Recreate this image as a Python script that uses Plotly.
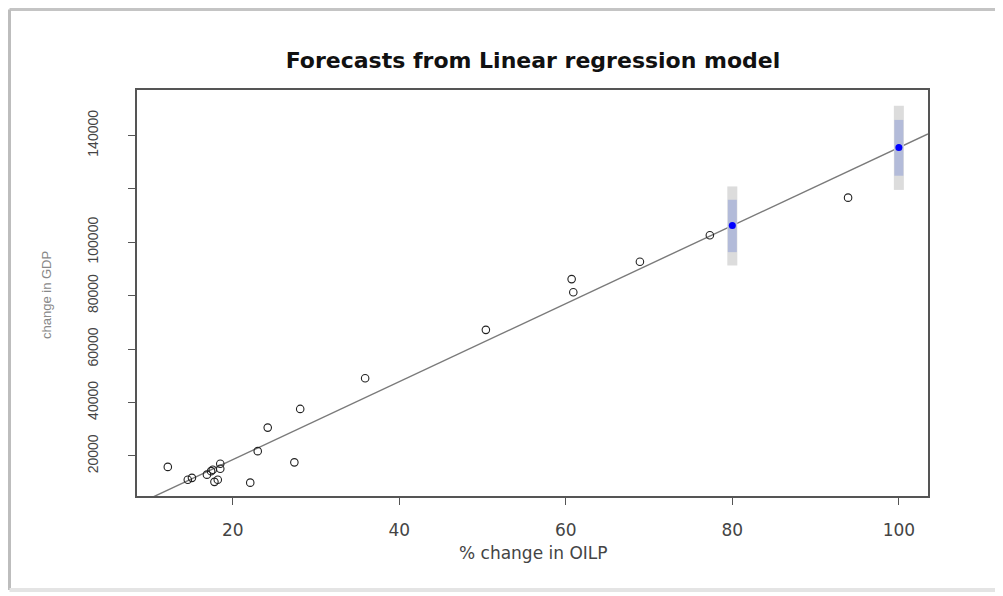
import plotly.graph_objects as go

# ---------------- data ----------------
obs_x = [12.2, 14.6, 15.1, 16.9, 17.4, 17.6, 18.5, 18.5, 17.8, 18.2, 22.1,
         23.0, 24.2, 27.4, 28.1, 35.9, 50.4, 60.7, 60.9, 68.9, 77.3, 93.9]
obs_y = [15900, 11100, 11800, 13000, 14300, 14800, 15200, 17100, 10300, 11100, 10000,
         21800, 30600, 17600, 37600, 49100, 67200, 86200, 81300, 92700, 102600, 116700]

fc_x = [80, 100]
fc_mean = [106250, 135450]
fc_lo80 = [96300, 124900]
fc_hi80 = [115900, 145800]
fc_lo95 = [91300, 119600]
fc_hi95 = [120900, 151100]

fit_intercept = -10590
fit_slope = 1460.5

x_range = [8.5, 103.5]
y_range = [5000, 157000]
x_ticks = [20, 40, 60, 80, 100]
y_ticks = [20000, 40000, 60000, 80000, 100000, 120000, 140000]
y_ticktext = ["20000", "40000", "60000", "80000", "100000", "", "140000"]

title_text = "Forecasts from Linear regression model"
xlab = "% change in OILP"
ylab = "change in GDP"

# ---------------- figure geometry ----------------
OFF = 8                      # page body margin around the figure
PAGE_W, PAGE_H = 1003, 596
W, H = PAGE_W - OFF, PAGE_H - OFF
# plot box in page pixels: left 137, right 928, top 90, bottom 496
L = 137 - OFF
T = 90 - OFF
R = W - (928 - OFF)
B = H - (496 - OFF)
pw, ph = W - L - R, H - T - B


def px2paper_x(px):
    return (px - OFF - L) / pw


def px2paper_y(py):
    return (H - B - (py - OFF)) / ph


fig = go.Figure()

# regression line across the full plot width
line_x = list(x_range)
line_y = [fit_intercept + fit_slope * v for v in line_x]
fig.add_trace(go.Scatter(x=line_x, y=line_y, mode="lines",
                         line=dict(color="#7a7a7a", width=1.4),
                         hoverinfo="skip", showlegend=False))

# 95% intervals
ix, iy = [], []
for xv, lo, hi in zip(fc_x, fc_lo95, fc_hi95):
    ix += [xv, xv, None]
    iy += [lo, hi, None]
fig.add_trace(go.Scatter(x=ix, y=iy, mode="lines",
                         line=dict(color="#dcdcdc", width=10),
                         hoverinfo="skip", showlegend=False))

# 80% intervals
ix, iy = [], []
for xv, lo, hi in zip(fc_x, fc_lo80, fc_hi80):
    ix += [xv, xv, None]
    iy += [lo, hi, None]
fig.add_trace(go.Scatter(x=ix, y=iy, mode="lines",
                         line=dict(color="#b3bbd9", width=9),
                         hoverinfo="skip", showlegend=False))

# observations
fig.add_trace(go.Scatter(x=obs_x, y=obs_y, mode="markers",
                         marker=dict(symbol="circle-open", size=7.5,
                                     color="#222222", line=dict(width=1.1)),
                         showlegend=False))

# point forecasts
fig.add_trace(go.Scatter(x=fc_x, y=fc_mean, mode="markers",
                         marker=dict(symbol="circle", size=7, color="#0000ff"),
                         showlegend=False))

axis_common = dict(showgrid=False, zeroline=False, showline=True, mirror=True,
                   linecolor="#555555", linewidth=1.5, ticks="outside",
                   ticklen=7, tickwidth=1.3, tickcolor="#555555")

fig.update_xaxes(range=x_range, tickvals=x_ticks,
                 tickfont=dict(family="DejaVu Sans", size=17, color="#444444"),
                 ticklabelstandoff=11, **axis_common)
fig.update_yaxes(range=y_range, tickvals=y_ticks, ticktext=y_ticktext,
                 tickangle=-90,
                 tickfont=dict(family="Liberation Sans", size=14, color="#444444"),
                 ticklabelstandoff=25, **axis_common)

annotations = [
    dict(text=xlab, x=px2paper_x(533), y=px2paper_y(553), xref="paper", yref="paper",
         showarrow=False, xanchor="center", yanchor="middle",
         font=dict(family="DejaVu Sans", size=17, color="#444444")),
    dict(text=ylab, x=px2paper_x(46), y=px2paper_y(295), xref="paper", yref="paper",
         showarrow=False, xanchor="center", yanchor="middle", textangle=-90,
         font=dict(family="Liberation Sans", size=13, color="#888888")),
]

# screenshot frame (drawn just inside the figure edge)
fx0, fx1 = OFF + 1.5, 1000
fy0, fy1 = OFF + 1.5, 590
shapes = [
    dict(type="line", xref="paper", yref="paper", x0=px2paper_x(fx0), x1=px2paper_x(fx1),
         y0=px2paper_y(fy0), y1=px2paper_y(fy0), line=dict(color="#c4c4c4", width=3)),
    dict(type="line", xref="paper", yref="paper", x0=px2paper_x(fx0), x1=px2paper_x(fx0),
         y0=px2paper_y(fy0), y1=px2paper_y(fy1), line=dict(color="#bdbdbd", width=3)),
    dict(type="line", xref="paper", yref="paper", x0=px2paper_x(fx0), x1=px2paper_x(fx1),
         y0=px2paper_y(fy1), y1=px2paper_y(fy1), line=dict(color="#e4e4e4", width=4)),
    dict(type="line", xref="paper", yref="paper", x0=px2paper_x(fx1), x1=px2paper_x(fx1),
         y0=px2paper_y(fy0), y1=px2paper_y(fy1), line=dict(color="#ececec", width=4)),
]

fig.update_layout(
    width=W, height=H, autosize=False,
    margin=dict(l=L, r=R, t=T, b=B, pad=0),
    paper_bgcolor="white", plot_bgcolor="white",
    title=dict(text="<b>" + title_text + "</b>", x=px2paper_x(533), xref="paper",
               xanchor="center", y=1 - (60 - OFF) / H, yanchor="middle",
               font=dict(family="DejaVu Sans", size=22, color="#111111")),
    annotations=annotations, shapes=shapes,
)

fig.write_html("out.html")
